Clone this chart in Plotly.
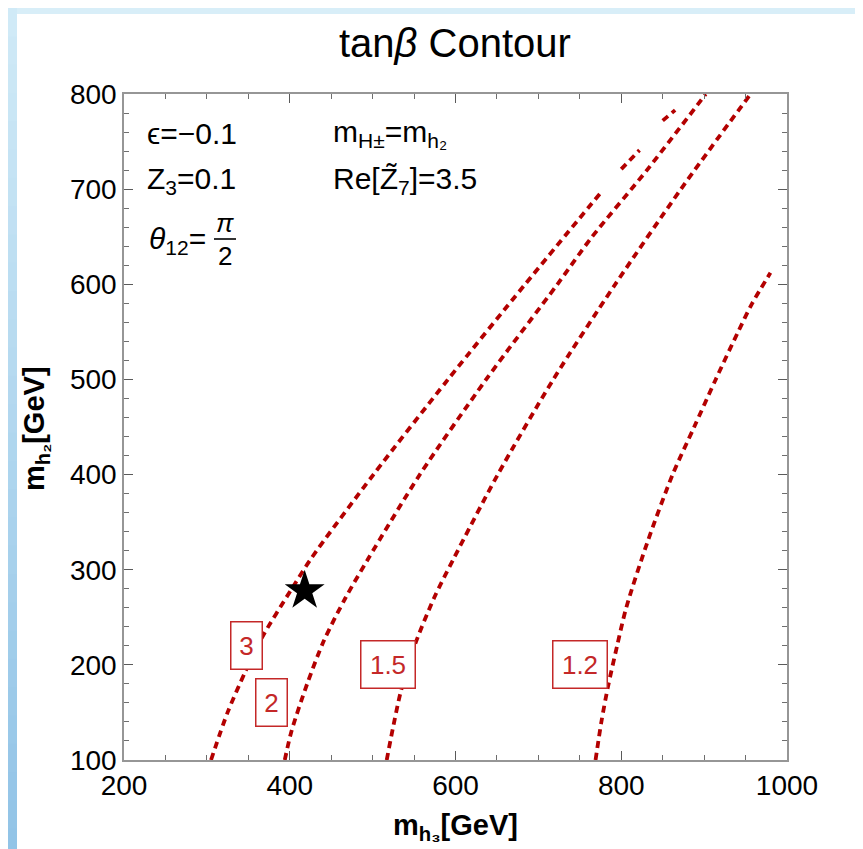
import plotly.graph_objects as go

# ---------------- data ----------------
# contour tan(beta)=3 : main branch, then two short broken pieces near the top
c3_x = [305, 325, 347, 366, 401, 426, 501, 591, 684, 775, None, 800, 822, None, 850, 865]
c3_y = [100, 150, 194, 228, 278, 312, 400, 500, 600, 696, None, 721, 741, None, 772, 783]
# contour tan(beta)=2
c2_x = [394, 402, 421, 441, 467, 495, 557, 637, 723, 764, 831, 902]
c2_y = [100, 130, 180, 225, 270, 312, 400, 500, 600, 649, 720, 800]
# contour tan(beta)=1.5
c15_x = [517, 534, 551, 574, 598, 651, 718, 792, 872, 956]
c15_y = [100, 172, 221, 270, 312, 400, 500, 599, 700, 800]
# contour tan(beta)=1.2
c12_x = [769, 776, 784, 795, 806, 832, 862, 888, 914, 941, 958, 980]
c12_y = [100, 140, 177, 220, 260, 330, 400, 450, 500, 550, 580, 612]

star_x = [418]
star_y = [278]

# contour labels: text, x, y
label_text = ["3", "2", "1.5", "1.2"]
label_x = [348, 378.5, 518.5, 750]
label_y = [220, 160, 200, 200]

x_ticks = [200, 400, 600, 800, 1000]
y_ticks = [100, 200, 300, 400, 500, 600, 700, 800]

# ---------------- layout geometry ----------------
W, H = 863, 849
L, R, T, B = 116, 779, 86, 752


def pxx(px):
    return (px - L) / (R - L)


def pxy(py):
    return (B - py) / (B - T)


RED = "#b30000"
LABEL_RED = "rgb(196,40,40)"
FRAME = "rgb(150,150,150)"
FONT = "Liberation Sans, Arial, sans-serif"

fig = go.Figure()

line_style = dict(color=RED, width=3.8, dash="7px,5px", shape="spline", smoothing=0.8)
for xs, ys in [(c3_x, c3_y), (c2_x, c2_y), (c15_x, c15_y), (c12_x, c12_y)]:
    fig.add_trace(go.Scatter(x=xs, y=ys, mode="lines", line=line_style,
                             hoverinfo="skip", showlegend=False))

fig.add_trace(go.Scatter(x=star_x, y=star_y, mode="markers",
                         marker=dict(symbol="star", size=30, color="black"),
                         hoverinfo="skip", showlegend=False))

annotations = []
for t, x, y in zip(label_text, label_x, label_y):
    w = 26 if len(t) == 1 else 49
    annotations.append(dict(x=x, y=y, xref="x", yref="y", text=t, showarrow=False,
                            font=dict(family=FONT, size=26, color=LABEL_RED),
                            bgcolor="white", bordercolor=LABEL_RED, borderwidth=1.5,
                            borderpad=2, width=w, height=42))

txt_font = dict(family=FONT, size=30, color="black")
frac_font = dict(family=FONT, size=26, color="black")
annotations += [
    dict(x=pxx(137), y=pxy(126), xref="paper", yref="paper", text="ϵ=−0.1",
         xanchor="left", yanchor="middle", showarrow=False, font=txt_font),
    dict(x=pxx(137), y=pxy(172), xref="paper", yref="paper", text="Z<sub>3</sub>=0.1",
         xanchor="left", yanchor="middle", showarrow=False, font=txt_font),
    dict(x=pxx(139), y=pxy(232), xref="paper", yref="paper", text="<i>θ</i><sub>12</sub>=",
         xanchor="left", yanchor="middle", showarrow=False, font=txt_font),
    dict(x=pxx(217), y=pxy(215), xref="paper", yref="paper", text="<i>π</i>",
         xanchor="center", yanchor="middle", showarrow=False, font=frac_font),
    dict(x=pxx(217), y=pxy(248), xref="paper", yref="paper", text="2",
         xanchor="center", yanchor="middle", showarrow=False, font=frac_font),
    dict(x=pxx(323), y=pxy(126), xref="paper", yref="paper",
         text="m<sub>H±</sub>=m<sub>h₂</sub>",
         xanchor="left", yanchor="middle", showarrow=False, font=txt_font),
    dict(x=pxx(323), y=pxy(172), xref="paper", yref="paper", text="Re[Z̃<sub>7</sub>]=3.5",
         xanchor="left", yanchor="middle", showarrow=False, font=txt_font),
    # title
    dict(x=pxx(447), y=pxy(35), xref="paper", yref="paper", text="tan<i>β</i> Contour",
         xanchor="center", yanchor="middle", showarrow=False,
         font=dict(family=FONT, size=40, color="black")),
    # axis titles
    dict(x=pxx(447), y=pxy(819), xref="paper", yref="paper",
         text="<b>m<sub>h₃</sub>[GeV]</b>", xanchor="center", yanchor="middle",
         showarrow=False, font=dict(family=FONT, size=29, color="black")),
    dict(x=pxx(28), y=pxy(421), xref="paper", yref="paper",
         text="<b>m<sub>h₂</sub>[GeV]</b>", xanchor="center", yanchor="middle",
         textangle=-90, showarrow=False, font=dict(family=FONT, size=29, color="black")),
]

shapes = [dict(type="line", xref="paper", yref="paper", x0=pxx(206), x1=pxx(228),
               y0=pxy(231), y1=pxy(231), line=dict(color="black", width=1.6))]

# light blue decorative strips on left and top edge
N = 30
for i in range(N):
    f = i / (N - 1)
    r = int(208 - f * 62)
    g = int(234 - f * 38)
    b = int(247 - f * 16)
    shapes.append(dict(type="rect", xref="paper", yref="paper", layer="below",
                       x0=pxx(0), x1=pxx(9), y0=pxy(i * H / N), y1=pxy((i + 1) * H / N + 1),
                       line=dict(width=0), fillcolor=f"rgb({r},{g},{b})"))
shapes.append(dict(type="rect", xref="paper", yref="paper", layer="below",
                   x0=pxx(9), x1=pxx(W), y0=pxy(0), y1=pxy(6),
                   line=dict(width=0), fillcolor="rgb(216,238,248)"))

axis_common = dict(showgrid=False, zeroline=False, showline=True, linecolor=FRAME,
                   linewidth=1.5, mirror="ticks", ticks="inside", ticklen=9,
                   tickwidth=1.2, tickcolor="rgb(90,90,90)",
                   tickfont=dict(family=FONT, size=28, color="black"))

fig.update_layout(
    width=W, height=H,
    margin=dict(l=L, r=W - R, t=T, b=H - B, pad=0),
    paper_bgcolor="white", plot_bgcolor="white",
    showlegend=False,
    xaxis=dict(range=[200, 1000], tickvals=x_ticks, ticktext=[str(v) for v in x_ticks],
               minor=dict(dtick=50, tick0=200, ticks="inside", ticklen=5, tickwidth=1,
                          tickcolor="rgb(110,110,110)"),
               **axis_common),
    yaxis=dict(range=[100, 800], tickvals=y_ticks, ticktext=[str(v) for v in y_ticks],
               minor=dict(dtick=20, tick0=100, ticks="inside", ticklen=5, tickwidth=1,
                          tickcolor="rgb(110,110,110)"),
               **axis_common),
    annotations=annotations,
    shapes=shapes,
)

fig.write_html("out.html")
